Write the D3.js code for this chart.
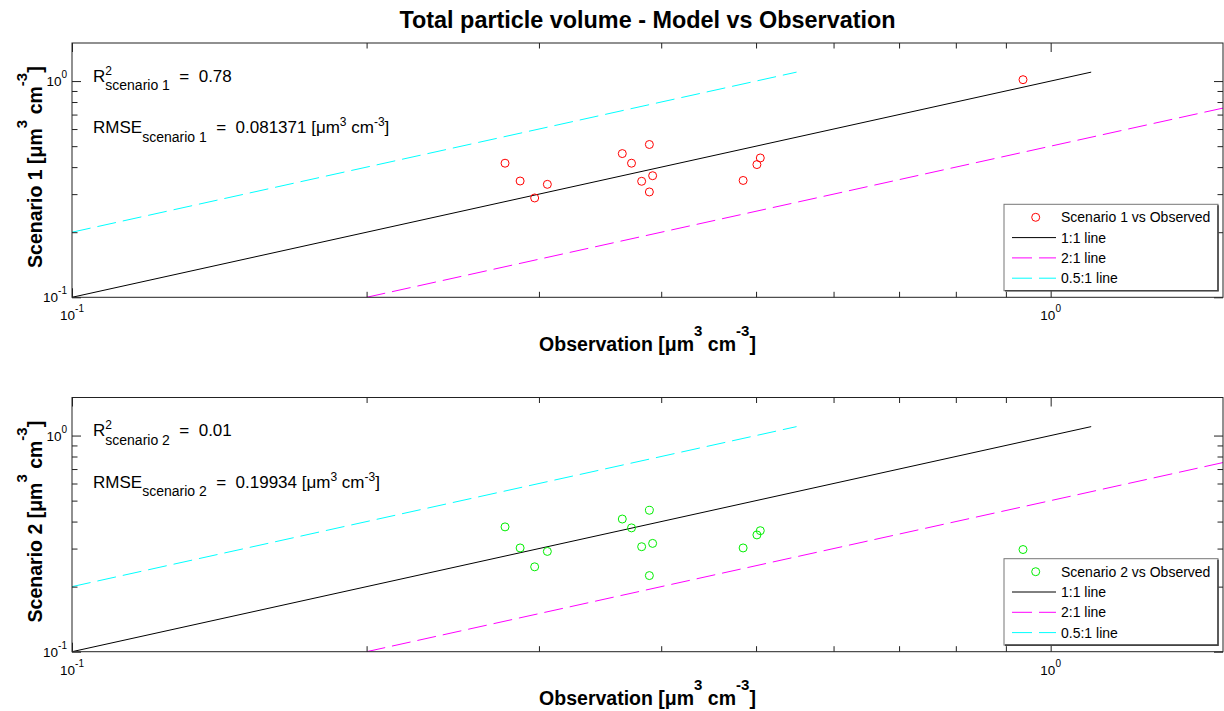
<!DOCTYPE html>
<html><head><meta charset="utf-8">
<script src="https://cdn.jsdelivr.net/npm/d3@7"></script>
<style>
body{margin:0;background:#fff;}
svg{display:block;font-family:Arial,"Liberation Sans",sans-serif;}
text{white-space:pre;}
</style></head><body>
<svg id="chart" width="1224" height="711"></svg>
<script>
// Observed total particle volume [µm³ cm⁻³] for each sample
const observed  = [0.277, 0.287, 0.297, 0.306, 0.365, 0.373, 0.389, 0.382, 0.392, 0.389, 0.485, 0.501, 0.505, 0.937];
// Modelled total particle volume for the same samples
const scenario1 = [0.417, 0.345, 0.288, 0.333, 0.462, 0.417, 0.509, 0.344, 0.365, 0.307, 0.347, 0.411, 0.441, 1.015];
const scenario2 = [0.378, 0.302, 0.247, 0.291, 0.411, 0.374, 0.451, 0.306, 0.317, 0.225, 0.302, 0.347, 0.363, 0.297];
// Fit statistics printed in each panel
const scenarioNames = ['Scenario 1', 'Scenario 2'];
const r2Values   = ['0.78', '0.01'];
const rmseValues = ['0.081371', '0.19934'];
// Reference lines y = slope * x, drawn between the start and end x
const refLabels = ['1:1 line', '2:1 line', '0.5:1 line'];
const refSlopes = [1, 0.5, 2];
const refStartX = [0.1, 0.2, 0.1];
const refEndX   = [1.1, 2.2, 0.55];
// Log axes
const axisDomain = [0.1, 1.5];
const majorTicks = [0.1, 1];
const majorTickExponents = ['-1', '0'];
const minorTicks = [0.2, 0.3, 0.4, 0.5, 0.6, 0.7, 0.8, 0.9];

const svg = d3.select('#chart');
const left = 72, right = 1223;
const panels = [
  {top: 43, bottom: 297.3, model: scenario1, color: '#ff0000'},
  {top: 397.5, bottom: 651.7, model: scenario2, color: '#00ee00'}
];
const refColors = ['#000000', '#ff00ff', '#00ffff'];
const refDash = [null, '19,7', '19,7'];

// One text element built from tspans; "stack" places the next piece under it
function richText(parent, x, y, parts, anchor) {
  const t = parent.append('text').attr('x', x).attr('y', y)
    .attr('text-anchor', anchor || 'start').attr('fill', '#000');
  let cur = 0, back = null;
  parts.forEach(p => {
    const target = p.shift || 0;
    const ts = t.append('tspan')
      .attr('dy', target - cur)
      .style('font-size', p.size + 'px')
      .style('font-weight', p.bold ? 'bold' : null)
      .text(p.t);
    cur = target;
    if (back != null) { ts.attr('dx', -back); back = null; }
    if (p.stack) back = ts.node().getComputedTextLength();
  });
  return t;
}
function unitParts(size, supSize, bold, rise) {
  return [
    {t: ' [\u03bcm', size, bold},
    {t: '3', size: supSize, bold, shift: -rise},
    {t: ' cm', size, bold},
    {t: '-3', size: supSize, bold, shift: -rise},
    {t: ']', size, bold}
  ];
}

// Title
richText(svg, (left + right) / 2, 28.3,
  [{t: 'Total particle volume - Model vs Observation', size: 23.4, bold: true}], 'middle');

panels.forEach((p, i) => {
  const x = d3.scaleLog().domain(axisDomain).range([left, right]);
  const y = d3.scaleLog().domain(axisDomain).range([p.bottom, p.top]);
  const g = svg.append('g');

  const clipId = 'clip' + i;
  svg.append('defs').append('clipPath').attr('id', clipId)
    .append('rect').attr('x', left).attr('y', p.top)
    .attr('width', right - left).attr('height', p.bottom - p.top);

  // Reference lines
  const lineG = g.append('g').attr('clip-path', `url(#${clipId})`);
  refLabels.forEach((lab, k) => {
    const pts = [refStartX[k], refEndX[k]].map(v => [x(v), y(v * refSlopes[k])]);
    lineG.append('path')
      .attr('d', d3.line()(pts))
      .attr('fill', 'none')
      .attr('stroke', refColors[k])
      .attr('stroke-width', 1)
      .attr('stroke-dasharray', refDash[k]);
  });

  // Ticks on all four sides, pointing inwards
  const axes = [
    [d3.axisBottom(x), `translate(0,${p.bottom})`],
    [d3.axisTop(x), `translate(0,${p.top})`],
    [d3.axisLeft(y), `translate(${left},0)`],
    [d3.axisRight(y), `translate(${right},0)`]
  ];
  axes.forEach(([ax, tr]) => {
    g.append('g').attr('transform', tr)
      .call(ax.tickValues(majorTicks).tickSizeInner(-9).tickSizeOuter(0).tickFormat(''))
      .call(s => s.select('.domain').remove())
      .call(s => s.selectAll('line').attr('stroke', '#222'));
    g.append('g').attr('transform', tr)
      .call(ax.tickValues(minorTicks).tickSizeInner(-5.5).tickSizeOuter(0).tickFormat(''))
      .call(s => s.select('.domain').remove())
      .call(s => s.selectAll('line').attr('stroke', '#222'));
  });

  // Axes box
  g.append('rect').attr('x', left).attr('y', p.top)
    .attr('width', right - left).attr('height', p.bottom - p.top)
    .attr('fill', 'none').attr('stroke', '#222').attr('stroke-width', 1);

  // Tick labels
  majorTicks.forEach((v, k) => {
    const lab = [{t: '10', size: 13.5}, {t: majorTickExponents[k], size: 10, shift: -8}];
    richText(g, x(v), p.bottom + 23, lab, 'middle');
    richText(g, left - 5, y(v) + 5, lab, 'end');
  });

  // Data points
  g.selectAll('circle.pt').data(observed.map((o, k) => [o, p.model[k]]))
    .join('circle').attr('class', 'pt')
    .attr('cx', d => x(d[0])).attr('cy', d => y(d[1]))
    .attr('r', 4).attr('fill', 'none')
    .attr('stroke', p.color).attr('stroke-width', 1);

  // Statistics
  const sub = 'scenario ' + (i + 1);
  richText(g, 93, p.top + 38.7, [
    {t: 'R', size: 17},
    {t: '2', size: 12, shift: -7, stack: true},
    {t: sub, size: 14, shift: 8.3},
    {t: '  =  ' + r2Values[i], size: 17}
  ]);
  richText(g, 93, p.top + 90.3, [
    {t: 'RMSE', size: 17},
    {t: sub, size: 14, shift: 8.3},
    {t: '  =  ' + rmseValues[i], size: 17}
  ].concat(unitParts(17, 12, false, 7)));

  // Axis labels
  richText(g, (left + right) / 2, p.bottom + 53.7,
    [{t: 'Observation', size: 19.5, bold: true}].concat(unitParts(19.5, 15, true, 15)), 'middle');
  richText(g.append('g').attr('transform', `translate(42,${(p.top + p.bottom) / 2 - 3}) rotate(-90)`),
    0, 0,
    [{t: scenarioNames[i], size: 19.5, bold: true}].concat(unitParts(19.5, 15, true, 15)), 'middle');

  // Legend
  const lw = 214, lh = 86.4;
  const lx = right - 5 - lw, ly = p.bottom - 6.6 - lh;
  const leg = g.append('g').attr('transform', `translate(${lx},${ly})`);
  leg.append('rect').attr('width', lw).attr('height', lh)
    .attr('fill', '#fff').attr('stroke', '#777').attr('stroke-width', 1);
  leg.append('path').attr('d', `M${lw},1V${lh}H1`)
    .attr('fill', 'none').attr('stroke', '#444').attr('stroke-width', 1.6);
  const rowY = k => 13 + k * 20.3;
  const labels = [scenarioNames[i] + ' vs Observed'].concat(refLabels);
  labels.forEach((lab, k) => {
    const ry = rowY(k);
    if (k === 0) {
      leg.append('circle').attr('cx', 31.7).attr('cy', ry).attr('r', 4)
        .attr('fill', 'none').attr('stroke', p.color).attr('stroke-width', 1);
    } else {
      leg.append('line').attr('x1', 8).attr('x2', 52).attr('y1', ry).attr('y2', ry)
        .attr('stroke', refColors[k - 1]).attr('stroke-width', 1)
        .attr('stroke-dasharray', refDash[k - 1] ? '20,7' : null);
    }
    leg.append('text').attr('x', 57).attr('y', ry + 5)
      .style('font-size', '14px').attr('fill', '#000').text(lab);
  });
});
</script>
</body></html>
